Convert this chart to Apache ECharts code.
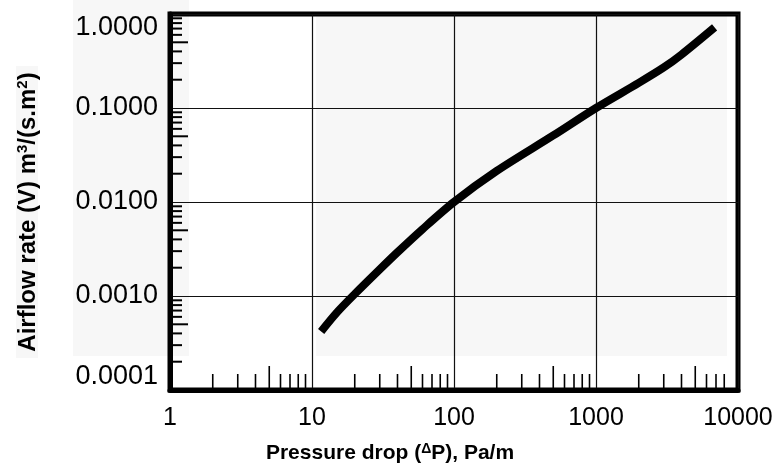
<!DOCTYPE html>
<html>
<head>
<meta charset="utf-8">
<script src="https://cdn.jsdelivr.net/npm/echarts@6/dist/echarts.min.js"></script>
<style>
  html, body { margin: 0; padding: 0; background: #fff; }
  #chart-1 { width: 779px; height: 476px; }
</style>
</head>
<body>
<div id="chart-1"></div>
<script>
// pressure drop (Pa/m) vs airflow rate (m3/(s.m2))
const pressureDrop = [11.6, 15, 20, 30, 40, 60, 100, 200, 500, 1000, 2000, 3000, 4000, 6840];
const airflowRate = [0.00042, 0.00067, 0.00105, 0.00192, 0.00292, 0.00514, 0.0100, 0.0214, 0.051, 0.100, 0.185, 0.27, 0.37, 0.72];

const xTickLabels = ['1', '10', '100', '1000', '10000'];
const yTickLabels = ['0.0001', '0.0010', '0.0100', '0.1000', '1.0000'];

// minor tick positions (mantissas per decade)
const mantissas = [2, 3, 4, 5, 6, 7, 8, 9];
const xDecades = [1, 10, 100, 1000];
const yDecades = [0.0001, 0.001, 0.01, 0.1];
const xMinor = [].concat(...xDecades.map(d => mantissas.map(m => m * d))).filter(v => v < 8500);
const yMinor = [].concat(...yDecades.map(d => mantissas.map(m => +(m * d).toPrecision(3))));

const FONT = '"Liberation Sans", Arial, sans-serif';

function isFive(v) {
    const m = v / Math.pow(10, Math.floor(Math.log10(v) + 1e-9));
    return Math.round(m) === 5;
}

const chart = echarts.init(document.getElementById('chart-1'));

chart.setOption({
    animation: false,
    grid: {
        left: 170, right: 41, top: 14, bottom: 86,
        show: true, borderColor: '#000', borderWidth: 5, backgroundColor: 'transparent'
    },
    xAxis: {
        type: 'log', logBase: 10, min: 1, max: 10000,
        axisLine: { show: true, lineStyle: { color: '#000', width: 5 } },
        axisTick: { show: false },
        splitLine: { show: true, lineStyle: { color: '#111', width: 1.2 } },
        axisLabel: {
            color: '#000', fontFamily: FONT, fontSize: 25, margin: 16,
            formatter: v => xTickLabels[Math.round(Math.log10(v))]
        },
        name: 'Pressure drop ({d|Δ}P), Pa/m',
        nameLocation: 'middle', nameGap: 52,
        nameTextStyle: {
            color: '#000', fontFamily: FONT, fontSize: 21, fontWeight: 'bold',
            padding: [0, 128, 0, 0],
            rich: { d: { fontSize: 14, fontWeight: 'bold', fontFamily: FONT, verticalAlign: 'top', padding: [0, 0, 8, 0] } }
        }
    },
    yAxis: {
        type: 'log', logBase: 10, min: 0.0001, max: 1,
        axisLine: { show: true, lineStyle: { color: '#000', width: 5 } },
        axisTick: { show: false },
        splitLine: { show: true, lineStyle: { color: '#111', width: 1.2 } },
        axisLabel: {
            color: '#000', fontFamily: FONT, fontSize: 27, margin: 12,
            verticalAlignMaxLabel: 'top', verticalAlignMinLabel: 'bottom',
            formatter: v => yTickLabels[Math.round(Math.log10(v)) + 4]
        },
        name: 'Airflow rate (V) m{s|3}/(s.m{s|2})',
        nameLocation: 'middle', nameGap: 129, nameRotate: 90,
        nameTextStyle: {
            color: '#000', fontFamily: FONT, fontSize: 24, fontWeight: 'bold',
            padding: [0, 20, 0, 0],
            rich: { s: { fontSize: 15, fontWeight: 'bold', fontFamily: FONT, verticalAlign: 'top', padding: [0, 0, 11, 0] } }
        }
    },
    series: [{
        type: 'line',
        data: pressureDrop.map((p, i) => [p, airflowRate[i]]),
        smooth: 0.3,
        showSymbol: false,
        lineStyle: { color: '#000', width: 8, cap: 'butt' },
        z: 5
    }, {
        type: 'custom',
        silent: true,
        data: xMinor.map(v => [v, 0.0001]),
        renderItem: (params, api) => {
            const v = api.value(0);
            const p = api.coord([v, api.value(1)]);
            const len = isFive(v) ? 24 : 16;
            return { type: 'line', shape: { x1: p[0], y1: p[1], x2: p[0], y2: p[1] - len }, style: { stroke: '#000', lineWidth: 1.6 } };
        },
        z: 4
    }, {
        type: 'custom',
        silent: true,
        data: yMinor.map(v => [1, v]),
        renderItem: (params, api) => {
            const v = api.value(1);
            const p = api.coord([api.value(0), v]);
            const len = isFive(v) ? 18 : 12;
            return { type: 'line', shape: { x1: p[0], y1: p[1], x2: p[0] + len, y2: p[1] }, style: { stroke: '#000', lineWidth: 2 } };
        },
        z: 4
    }]
});

// light grey panels seen behind the plot and the y title
const tl = chart.convertToPixel({ gridIndex: 0 }, [10.7, 1]);
const br = chart.convertToPixel({ gridIndex: 0 }, [8370, 0.00023]);
chart.setOption({
    graphic: [
        { type: 'rect', z: -10, shape: { x: 73, y: 0, width: 116, height: br[1] }, style: { fill: '#f7f7f7' } },
        { type: 'rect', z: -10, shape: { x: tl[0], y: tl[1], width: br[0] - tl[0], height: br[1] - tl[1] }, style: { fill: '#f7f7f7' } },
        { type: 'rect', z: -10, shape: { x: 16, y: 66, width: 22, height: 292 }, style: { fill: '#f7f7f7' } }
    ]
});
</script>
</body>
</html>
